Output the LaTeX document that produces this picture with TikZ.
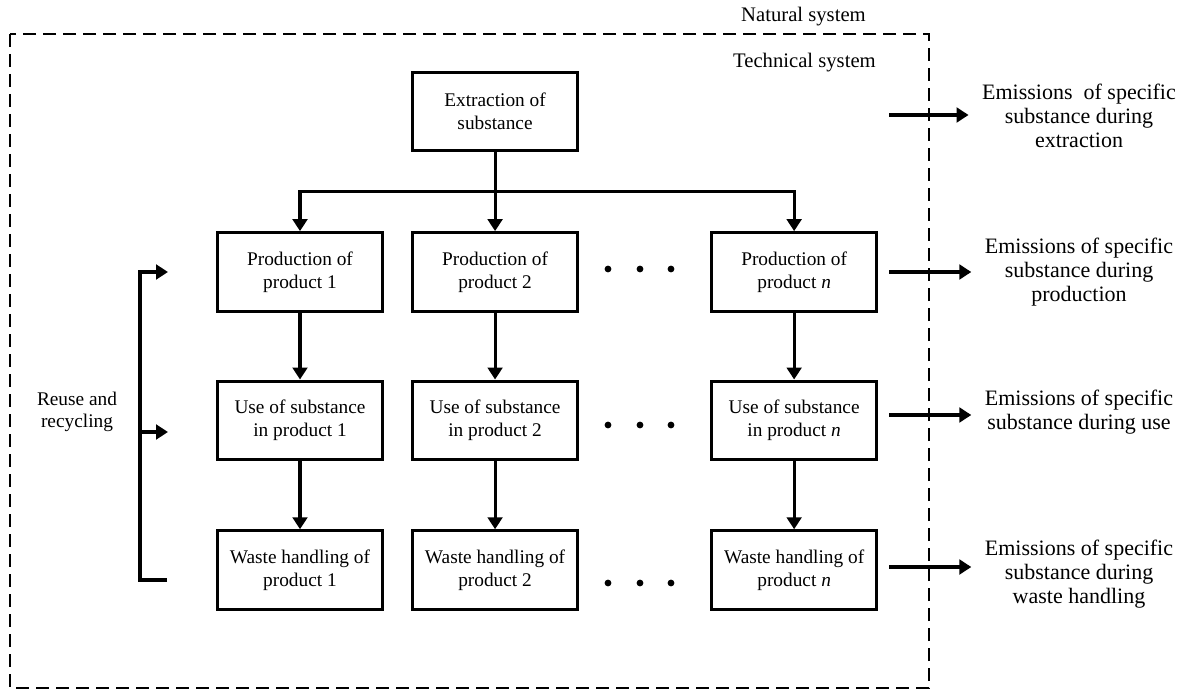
\documentclass[tikz,border=0pt]{standalone}
\usepackage{fontspec}
\setmainfont{Liberation Serif}
\usepackage{tikz}
\usetikzlibrary{arrows.meta,calc,positioning}

\begin{document}
\begin{tikzpicture}[x=0.75pt,y=-0.75pt,node distance=50pt and 20pt,
  box/.style={draw,line width=2.3pt,minimum width=124pt,minimum height=59pt,inner sep=0pt,align=center,font=\fontsize{14.5}{17.5}\selectfont},
  emis/.style={align=center,inner xsep=10pt,font=\fontsize{16.5}{18}\selectfont},
  lbl/.style={inner sep=0pt,font=\fontsize{15.5}{18}\selectfont},
  arr/.style={-{Triangle[length=9pt,width=11pt]},line width=2.3pt},
  frame/.style={line width=2.2pt,dash pattern=on 10pt off 5pt}]
\useasboundingbox (0,0) rectangle (1180,691);
\draw[frame] (10,34) rectangle (929,688);
\node[lbl,anchor=east] (natural) at (866,17) {Natural system};
\node[lbl,anchor=east] (technical) at (876,63) {Technical system};
\node[box] (prod1) at (300,272) {Production of\\product 1};
\node[box,right=of prod1] (prod2) {Production of\\product 2};
\node[box,right=98pt of prod2] (prodN) {Production of\\product \textit{n}};
\node[box,above=59pt of prod2] (ext) {Extraction of\\substance};
\node[box,below=of prod1] (use1) {Use of substance\\in product 1};
\node[box,below=of prod2] (use2) {Use of substance\\in product 2};
\node[box,below=of prodN] (useN) {Use of substance\\in product \textit{n}};
\node[box,below=51pt of use1] (waste1) {Waste handling of\\product 1};
\node[box,below=51pt of use2] (waste2) {Waste handling of\\product 2};
\node[box,below=51pt of useN] (wasteN) {Waste handling of\\product \textit{n}};
\coordinate (split) at ($(ext.south)!0.5!(prod2.north)$);
\draw[arr] (ext) -- (prod2);
\draw[arr] (split) -| (prod1.north);
\draw[arr] (split) -| (prodN.north);
\foreach \c in {1,2,N} {
  \draw[arr] (prod\c) -- (use\c);
  \draw[arr] (use\c) -- (waste\c);
}
\foreach \y in {269,425,583}
  \foreach \x in {608,640,671}
    \fill (\x,\y) circle (3.4);
\node[emis] (emext) at (1079,116) {Emissions\ \ of specific\\substance during\\extraction};
\node[emis] (emprod) at (1079,272) {Emissions of specific\\substance during\\production};
\node[emis] (emuse) at (1079,412) {Emissions of specific\\substance during use};
\node[emis] (emwaste) at (1079,574) {Emissions of specific\\substance during\\waste handling};
\coordinate (oext) at (889,115);
\coordinate (oprod) at (889,272);
\coordinate (ouse) at (889,415);
\coordinate (owaste) at (889,567);
\draw[arr] (oext) -- (oext -| emext.west);
\draw[arr] (oprod) -- (oprod -| emprod.west);
\draw[arr] (ouse) -- (ouse -| emuse.west);
\draw[arr] (owaste) -- (owaste -| emwaste.west);
\node[align=center,font=\fontsize{14.5}{16.5}\selectfont] (reuse) at (77,412) {Reuse and\\recycling};
\coordinate (rbot) at (167,580);
\coordinate (rtop) at (168,272);
\coordinate (rspine) at (140,432);
\coordinate (rmid) at (168,432);
\draw[arr] (rbot) -- ++(-27,0) |- (rtop);
\draw[arr] (rspine) -- (rmid);
\end{tikzpicture}
\end{document}
